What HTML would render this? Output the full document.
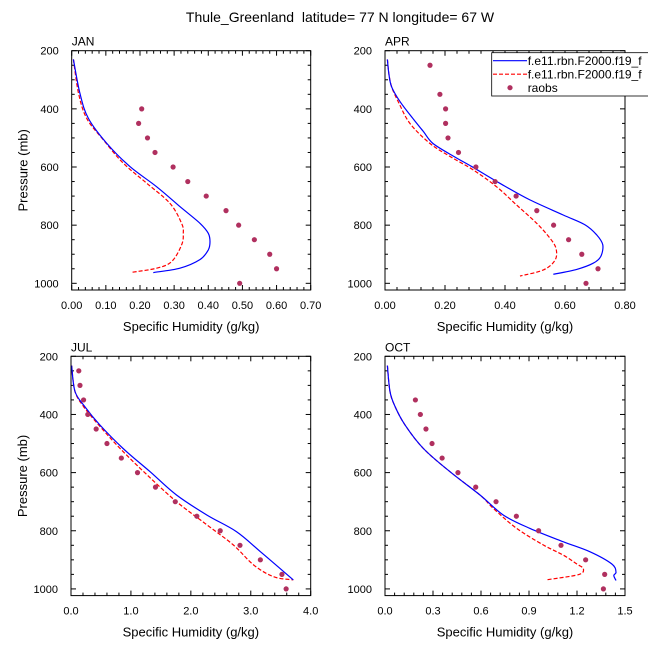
<!DOCTYPE html>
<html><head><meta charset="utf-8"><style>
body{margin:0;background:#fff}
svg{display:block;font-family:"Liberation Sans",sans-serif}
</style></head><body>
<svg id="chart" width="648" height="649" viewBox="0 0 648 649">
<text x="340" y="22" text-anchor="middle" font-size="14" style="white-space:pre">Thule_Greenland  latitude= 77 N longitude= 67 W</text>
</svg>
<script>
// JAN
const janBlueP=[230,346,433,519,599,668,736,794,828,857,885,918,948,963];
const janBlueQ=[0.005,0.024,0.049,0.103,0.171,0.249,0.317,0.376,0.4,0.405,0.4,0.376,0.317,0.239];
const janRedP=[230,346,433,507,587,656,725,794,828,868,925,948,962];
const janRedQ=[0.005,0.02,0.044,0.093,0.151,0.22,0.288,0.322,0.327,0.322,0.293,0.249,0.176];
const janObsP=[400,450,500,550,600,650,700,750,800,850,900,950,1000];
const janObsQ=[0.205,0.196,0.222,0.244,0.297,0.34,0.394,0.452,0.489,0.535,0.58,0.6,0.492];
const janTicks=["0.00","0.10","0.20","0.30","0.40","0.50","0.60","0.70"];
// APR
const aprBlueP=[230,280,324,375,436,478,519,564,599,656,713,765,799,834,868,908,931,952,969];
const aprBlueQ=[0.008,0.013,0.022,0.05,0.095,0.128,0.16,0.23,0.29,0.383,0.483,0.594,0.667,0.706,0.726,0.719,0.694,0.639,0.561];
const aprRedP=[230,280,324,375,450,519,564,610,668,731,794,845,880,920,954,975];
const aprRedQ=[0.008,0.013,0.022,0.044,0.083,0.15,0.217,0.294,0.372,0.439,0.506,0.55,0.57,0.567,0.528,0.45];
const aprObsP=[250,350,400,450,500,550,600,650,700,750,800,850,900,950,1000];
const aprObsQ=[0.15,0.183,0.202,0.202,0.21,0.245,0.303,0.367,0.437,0.506,0.562,0.612,0.656,0.71,0.67];
const aprTicks=["0.00","0.20","0.40","0.60","0.80"];
// JUL
const julBlueP=[232,321,373,436,517,597,677,746,803,872,969];
const julBlueQ=[0.01,0.067,0.23,0.48,0.87,1.32,1.76,2.27,2.76,3.16,3.71];
const julRedP=[232,321,373,436,517,608,700,780,849,918,958,969];
const julRedQ=[0.01,0.067,0.21,0.46,0.82,1.27,1.76,2.27,2.71,3.05,3.38,3.71];
const julObsP=[250,300,350,400,450,500,550,600,650,700,750,800,850,900,950,1000];
const julObsQ=[0.13,0.15,0.21,0.28,0.42,0.6,0.84,1.11,1.41,1.74,2.1,2.49,2.82,3.16,3.52,3.59];
const julTicks=["0.0","1.0","2.0","3.0","4.0"];
// OCT
const octBlueP=[232,321,373,436,517,597,677,746,792,838,872,914,942,954,971];
const octBlueQ=[0.015,0.031,0.063,0.125,0.24,0.406,0.594,0.74,0.906,1.115,1.28,1.417,1.444,1.43,1.444];
const octRedP=[232,321,373,436,517,597,677,723,792,849,884,914,931,951,969];
const octRedQ=[0.015,0.031,0.063,0.125,0.24,0.406,0.594,0.677,0.823,0.99,1.115,1.198,1.24,1.208,1.006];
const octObsP=[350,400,450,500,550,600,650,700,750,800,850,900,950,1000];
const octObsQ=[0.19,0.221,0.256,0.294,0.357,0.456,0.567,0.694,0.821,0.96,1.1,1.254,1.373,1.365];
const octTicks=["0.0","0.3","0.6","0.9","1.2","1.5"];
const pTicks=[200,400,600,800,1000];

const NS="http://www.w3.org/2000/svg";
const svg=document.getElementById('chart');
function mk(tag,attrs,parent){const e=document.createElementNS(NS,tag);for(const k in attrs)e.setAttribute(k,attrs[k]);(parent||svg).appendChild(e);return e;}

function smoothPath(pts){
  let d='M'+pts[0][0].toFixed(1)+','+pts[0][1].toFixed(1);
  for(let i=0;i<pts.length-1;i++){
    const p0=pts[i-1]||pts[i],p1=pts[i],p2=pts[i+1],p3=pts[i+2]||pts[i+1];
    const c1=[p1[0]+(p2[0]-p0[0])/6,p1[1]+(p2[1]-p0[1])/6];
    const c2=[p2[0]-(p3[0]-p1[0])/6,p2[1]-(p3[1]-p1[1])/6];
    d+='C'+c1[0].toFixed(1)+','+c1[1].toFixed(1)+' '+c2[0].toFixed(1)+','+c2[1].toFixed(1)+' '+p2[0].toFixed(1)+','+p2[1].toFixed(1);
  }
  return d;
}

function panel(name,L,T,W,xmax,ticks,minorN,blueP,blueQ,redP,redQ,obsP,obsQ){
  const H=239.3, pmin=200, pmax=1023;
  const g=mk('g',{});
  
  
  const xs=v=>L+v/xmax*W;
  const ys=p=>T+(p-pmin)/(pmax-pmin)*H;
  const nMaj=ticks.length-1;
  for(let i=0;i<=nMaj*minorN;i++){
    const x=L+i*W/(nMaj*minorN);const len=(i%minorN===0)?5:3;
    mk('line',{x1:x,y1:T+H,x2:x,y2:T+H-len,stroke:'#000','stroke-width':1},g);
    mk('line',{x1:x,y1:T,x2:x,y2:T+len,stroke:'#000','stroke-width':1},g);
  }
  for(let p=200;p<=1000;p+=50){
    const y=ys(p);const len=(p%200===0)?5:3;
    mk('line',{x1:L,y1:y,x2:L+len,y2:y,stroke:'#000','stroke-width':1},g);
    mk('line',{x1:L+W,y1:y,x2:L+W-len,y2:y,stroke:'#000','stroke-width':1},g);
  }
  ticks.forEach((t,i)=>{
    const tx=mk('text',{x:L+i*W/nMaj,y:T+H+19,'text-anchor':'middle','font-size':11},g);
    
    
    tx.textContent=t;
  });
  pTicks.forEach(p=>{
    const tx=mk('text',{x:L-13,y:ys(p)+4,'text-anchor':'end','font-size':11},g);
    
    
    tx.textContent=p;
  });
  const xt=mk('text',{x:L+W/2,y:T+H+41,'text-anchor':'middle','font-size':13},g);
  
  
  xt.textContent='Specific Humidity (g/kg)';
  if(L<200){
    const yt=mk('text',{x:0,y:0,'text-anchor':'middle','font-size':13,transform:`translate(${L-44},${T+H/2}) rotate(-90)`},g);
    
    
    yt.textContent='Pressure (mb)';
  }
  const lab=mk('text',{x:L,y:T-5,'font-size':12},g);
  
  
  lab.textContent=name.toUpperCase();
  const line=(P,Q,c,dash,nm)=>{
    const d=smoothPath(P.map((p,i)=>[xs(Q[i]),ys(p)]));
    const a={d:d,fill:'none',stroke:c,'stroke-width':1.2};if(dash)a['stroke-dasharray']='4,2';
    const e=mk('path',a,g);
    
    
  };
  line(redP,redQ,'#ff0000',true,'model-line-2');
  line(blueP,blueQ,'#0000ff',false,'model-line-1');
  obsP.forEach((p,i)=>{
    const c=mk('circle',{cx:xs(obsQ[i]),cy:ys(p),r:2.6,fill:'#b0305f'},g);
    
    
  });
  const fr=mk('rect',{x:L,y:T,width:W,height:H,fill:'none',stroke:'#000','stroke-width':1},g);
  
  
}
panel('jan',71.7,50.7,239,0.7,janTicks,5,janBlueP,janBlueQ,janRedP,janRedQ,janObsP,janObsQ);
panel('apr',385,50.7,240,0.8,aprTicks,5,aprBlueP,aprBlueQ,aprRedP,aprRedQ,aprObsP,aprObsQ);
panel('jul',71,356.3,239.7,4.0,julTicks,5,julBlueP,julBlueQ,julRedP,julRedQ,julObsP,julObsQ);
panel('oct',385,356.3,240,1.5,octTicks,5,octBlueP,octBlueQ,octRedP,octRedQ,octObsP,octObsQ);

const lg=mk('g',{});


mk('rect',{x:491.7,y:52.7,width:170,height:43.3,fill:'#fff',stroke:'#000','stroke-width':0.8},lg);
const ents=[['f.e11.rbn.F2000.f19_f','#0000ff',false],['f.e11.rbn.F2000.f19_f','#ff0000',true],['raobs','#b0305f',null]];
ents.forEach((e,i)=>{
  const y=60.7+i*13.5;
  const eg=mk('g',{},lg);
  
  
  if(e[2]===null){mk('circle',{cx:510,cy:y,r:2.6,fill:e[1]},eg);}
  else{const a={x1:493,y1:y,x2:527,y2:y,stroke:e[1],'stroke-width':1.2};if(e[2])a['stroke-dasharray']='4,2';mk('line',a,eg);}
  const t=mk('text',{x:527.7,y:y+4.5,'font-size':12},eg);
  t.textContent=e[0];
});
</script>
</body></html>
